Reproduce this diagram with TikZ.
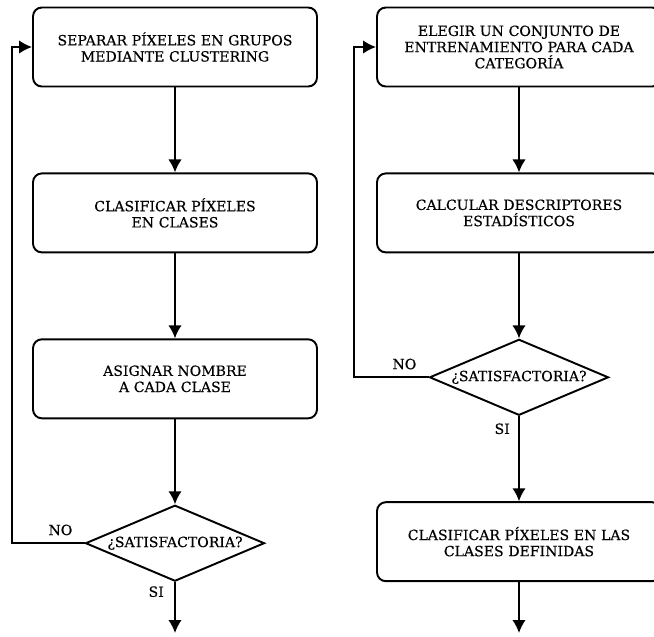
\documentclass[tikz,border=0pt]{standalone}
\usepackage{fontspec}
\setmainfont{DejaVu Serif}[FakeBold=0.4]
\usetikzlibrary{positioning, shapes, arrows, arrows.meta}

\begin{document}
\begin{tikzpicture}[
    x=0.02cm, y=-0.02cm,
    node distance=1.7cm,
    font=\fontsize{8pt}{9.2pt}\selectfont,
    block/.style={draw, rectangle, line width=1.1pt, minimum width=5.68cm, minimum height=1.58cm, rounded corners=5pt, align=center, text width=5.4cm},
    decision/.style={draw, diamond, line width=1.1pt, minimum width=3.58cm, minimum height=1.52cm, inner sep=0pt, aspect=2.36},
    arrow/.style={-{Latex[length=2.6mm, width=2.7mm]}, line width=1.1pt},
    tag/.style={font=\fontsize{8pt}{8pt}\selectfont}
]
\useasboundingbox (0,0) rectangle (654,637);
\clip (0,0) rectangle (654,637);

% Left column
\node[block] (separar) at (175,47) {SEPARAR PÍXELES EN GRUPOS\\MEDIANTE CLUSTERING};
\node[block, below=of separar] (clasificar) {CLASIFICAR PÍXELES\\EN CLASES};
\node[block, below=of clasificar] (asignar) {ASIGNAR NOMBRE\\A CADA CLASE};
\node[decision, below=of asignar] (okL) {¿SATISFACTORIA?};

% Right column
\node[block] (elegir) at (519,47) {ELEGIR UN CONJUNTO DE\\ENTRENAMIENTO PARA CADA\\CATEGORÍA};
\node[block, below=of elegir] (calcular) {CALCULAR DESCRIPTORES\\ESTADÍSTICOS};
\node[decision, below=of calcular] (okR) {¿SATISFACTORIA?};
\node[block, below=of okR] (clasifR) {CLASIFICAR PÍXELES EN LAS\\CLASES DEFINIDAS};

% Loose ends
\coordinate (loopL) at (12,47);
\coordinate (loopR) at (354,47);
\coordinate (endL) at (175,633);
\coordinate (endR) at (519,633);

% Arrows
\draw[arrow] (separar) -- (clasificar);
\draw[arrow] (clasificar) -- (asignar);
\draw[arrow] (asignar) -- (okL);
\draw[arrow] (okL.west) -| (loopL) -- (separar.west);
\draw[arrow] (okL.south) -- (endL);
\draw[arrow] (elegir) -- (calcular);
\draw[arrow] (calcular) -- (okR);
\draw[arrow] (okR.west) -| (loopR) -- (elegir.west);
\draw[arrow] (okR) -- (clasifR);
\draw[arrow] (clasifR) -- (endR);

% Labels
\node[tag, above left=1pt and 0.12cm of okL.west] (noL) {NO};
\node[tag, below left=-0.04cm and 0.10cm of okL.south] (siL) {SI};
\node[tag, above left=1pt and 0.12cm of okR.west] (noR) {NO};
\node[tag, below left=0.02cm and 0.06cm of okR.south] (siR) {SI};

\end{tikzpicture}
\end{document}
